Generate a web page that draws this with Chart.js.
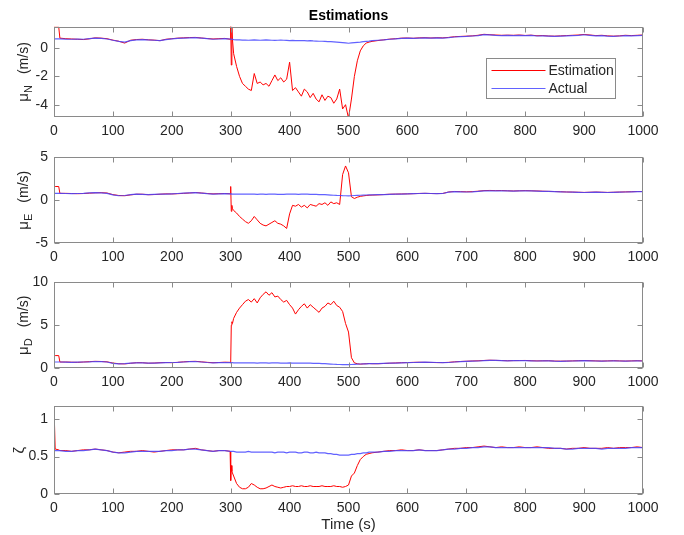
<!DOCTYPE html>
<html>
<head>
<meta charset="utf-8">
<script src="https://cdn.jsdelivr.net/npm/chart.js@4.4.1/dist/chart.umd.min.js"></script>
<style>
  html, body { margin: 0; padding: 0; background: #fff; }
  #wrap { position: relative; width: 684px; height: 535px; }
  .panel { position: absolute; left: 0; width: 684px; }
</style>
</head>
<body>
<div id="wrap">
  <div class="panel" style="top:0px;height:139px"><canvas id="cN"></canvas></div>
  <div class="panel" style="top:143px;height:122px"><canvas id="cE"></canvas></div>
  <div class="panel" style="top:268px;height:122px"><canvas id="cD"></canvas></div>
  <div class="panel" style="top:392px;height:142px"><canvas id="cZ"></canvas></div>
</div>
<script>
// time axis (s), shared by all series
const time = [0,2,8,10,
  20,30,40,50,60,70,80,90,100,110,120,130,140,150,160,170,180,190,200,210,220,230,240,250,260,270,280,290,
  299,300,301,302,303,
  305,310,315,320,325,330,335,340,345,350,355,360,365,370,375,380,385,390,395,400,
  405,410,415,420,425,430,435,440,445,450,455,460,465,470,475,480,485,490,495,500,
  505,510,515,520,525,530,535,540,
  550,560,570,580,590,600,610,620,630,640,650,660,670,680,690,700,710,720,730,740,
  750,760,770,780,790,800,810,820,830,840,850,860,870,880,890,900,910,920,930,940,
  950,960,970,980,990,1000];

const xTicks = [0,100,200,300,400,500,600,700,800,900,1000];

// mu_N
const estN = [1.5,1.5,1.5,0.7,
  0.66,0.64,0.62,0.60,0.65,0.72,0.70,0.66,0.56,0.48,0.35,0.55,0.60,0.62,0.58,0.56,0.52,0.62,0.66,0.70,0.72,0.74,0.75,0.71,0.67,0.64,0.66,0.68,
  0.62,1.8,-1.2,1.5,0.6,
  -0.4,-1.3,-2.0,-2.5,-2.7,-2.9,-3.0,-1.8,-2.5,-2.4, -2.6,-2.5,-2.7,-2.3,-1.9,-2.3,-2.1,-2.4,-2.2,-1.0,
  -3.0,-2.8,-3.1,-3.4,-2.9,-3.1,-3.5,-3.2,-3.6,-3.8, -3.3,-3.7,-3.4,-3.5,-3.9,-3.6,-2.9,-4.3,-4.0,-4.95,
  -3.6,-2.0,-0.9,-0.2,0.15,0.35,0.42,0.47,
  0.53,0.58,0.63,0.66,0.70,0.71,0.69,0.72,0.73,0.71, 0.73,0.72,0.75,0.80,0.82,0.84,0.86,0.90,0.97,0.94,
  0.92,0.90,0.91,0.90,0.92,0.89,0.91,0.87,0.88,0.85, 0.84,0.86,0.88,0.90,0.92,0.96,0.92,0.88,0.90,0.86,
  0.84,0.86,0.90,0.88,0.90,0.92];
const actN = [0.65,0.65,0.65,0.65,
  0.63,0.62,0.64,0.62,0.66,0.70,0.68,0.64,0.55,0.47,0.42,0.52,0.58,0.60,0.57,0.55,0.52,0.60,0.65,0.68,0.70,0.72,0.74,0.70,0.66,0.62,0.64,0.66,
  0.64,0.63,0.63,0.63,0.62,
  0.60,0.58,0.57,0.56,0.56,0.55,0.56,0.57,0.56,0.55, 0.56,0.57,0.56,0.55,0.54,0.55,0.56,0.55,0.54,0.53,
  0.54,0.53,0.52,0.53,0.52,0.51,0.52,0.50,0.49,0.48, 0.48,0.47,0.46,0.45,0.44,0.42,0.40,0.38,0.36,0.34,
  0.36,0.38,0.40,0.42,0.45,0.47,0.49,0.52,
  0.55,0.58,0.62,0.65,0.68,0.70,0.68,0.70,0.72,0.70, 0.72,0.70,0.73,0.78,0.80,0.82,0.85,0.88,0.95,0.93,
  0.90,0.88,0.90,0.88,0.90,0.88,0.90,0.85,0.86,0.84, 0.82,0.84,0.86,0.88,0.90,0.94,0.90,0.86,0.88,0.84,
  0.82,0.85,0.88,0.86,0.88,0.90];
const yTicksN = [-4,-2,0];

// mu_E
const estE = [1.6,1.6,1.6,0.8,
  0.80,0.78,0.76,0.78,0.82,0.86,0.88,0.84,0.65,0.55,0.52,0.62,0.70,0.70,0.64,0.66,0.70,0.74,0.73,0.76,0.80,0.84,0.90,0.84,0.78,0.74,0.76,0.78,
  0.75,1.6,-1.3,-0.6,-1.0,
  -1.2,-1.5,-1.9,-2.2,-2.5,-2.7,-2.4,-1.9,-2.3,-2.7, -2.9,-3.0,-2.8,-2.6,-2.4,-2.7,-2.8,-3.0,-3.3,-1.6,
  -0.6,-0.7,-0.5,-0.8,-0.6,-0.9,-0.5,-0.6,-0.7,-0.4, -0.5,-0.3,-0.6,-0.2,-0.4,-0.3,-0.5,3.0,4.0,3.2,
  0.4,0.2,0.35,0.45,0.5,0.55,0.58,0.60,
  0.62,0.66,0.70,0.71,0.73,0.74,0.76,0.79,0.80,0.78, 0.77,0.79,0.96,1.02,1.00,0.98,1.00,1.05,1.12,1.14,
  1.12,1.13,1.10,1.08,1.10,1.12,1.10,1.08,1.05,1.03, 1.01,0.99,0.96,0.95,0.93,0.91,0.93,0.95,0.93,0.91,
  0.93,0.95,0.97,0.99,1.01,1.02];
const actE = [0.80,0.80,0.80,0.80,
  0.78,0.76,0.78,0.80,0.85,0.88,0.86,0.80,0.62,0.52,0.55,0.65,0.70,0.68,0.66,0.68,0.70,0.72,0.75,0.78,0.82,0.85,0.88,0.82,0.76,0.72,0.74,0.76,
  0.74,0.73,0.73,0.73,0.72,
  0.72,0.71,0.70,0.70,0.71,0.72,0.71,0.70,0.69,0.70, 0.70,0.69,0.70,0.71,0.70,0.69,0.68,0.69,0.70,0.70,
  0.71,0.70,0.69,0.70,0.71,0.70,0.69,0.68,0.67,0.66, 0.65,0.64,0.62,0.60,0.58,0.56,0.55,0.53,0.52,0.50,
  0.52,0.55,0.57,0.58,0.60,0.61,0.62,0.63,
  0.64,0.66,0.68,0.70,0.72,0.75,0.77,0.78,0.80,0.78, 0.76,0.78,0.95,1.00,0.98,0.96,0.98,1.02,1.08,1.10,
  1.08,1.10,1.08,1.06,1.08,1.10,1.08,1.06,1.04,1.02, 1.00,0.98,0.96,0.94,0.92,0.90,0.92,0.94,0.92,0.90,
  0.92,0.94,0.96,0.98,1.00,1.00];
const yTicksE = [-5,0,5];

// mu_D
const estD = [1.45,1.45,1.45,0.7,
  0.70,0.68,0.66,0.70,0.74,0.78,0.76,0.72,0.58,0.50,0.48,0.55,0.62,0.62,0.56,0.58,0.62,0.64,0.62,0.66,0.72,0.76,0.78,0.72,0.66,0.62,0.64,0.68,
  0.66,0.6,5.0,5.4,5.2,
  5.8,6.5,7.0,7.4,7.8,8.0,7.7,8.1,7.6,8.2, 8.6,8.9,8.5,8.8,8.3,8.4,8.0,7.7,7.9,7.4,
  7.0,6.3,6.8,7.2,7.5,7.0,7.4,7.1,6.8,6.5, 7.0,7.2,7.6,7.4,7.8,7.3,7.1,6.6,5.2,4.2,
  1.2,0.6,0.5,0.45,0.48,0.5,0.52,0.5,
  0.50,0.53,0.56,0.59,0.62,0.63,0.66,0.67,0.66,0.65, 0.63,0.63,0.66,0.72,0.76,0.79,0.82,0.84,0.88,0.91,
  0.89,0.87,0.85,0.86,0.87,0.88,0.85,0.83,0.84,0.85, 0.81,0.80,0.81,0.83,0.85,0.87,0.85,0.83,0.81,0.83,
  0.85,0.83,0.81,0.83,0.85,0.83];
const actD = [0.70,0.70,0.70,0.70,
  0.68,0.66,0.68,0.70,0.72,0.76,0.74,0.70,0.55,0.48,0.50,0.56,0.60,0.60,0.58,0.58,0.60,0.62,0.64,0.66,0.70,0.74,0.76,0.70,0.64,0.60,0.62,0.64,
  0.63,0.62,0.62,0.62,0.62,
  0.61,0.60,0.60,0.59,0.60,0.61,0.60,0.59,0.58,0.59, 0.60,0.59,0.58,0.59,0.60,0.59,0.58,0.57,0.58,0.59,
  0.58,0.57,0.56,0.57,0.58,0.57,0.56,0.55,0.54,0.53, 0.52,0.50,0.48,0.46,0.44,0.42,0.41,0.40,0.40,0.39,
  0.41,0.43,0.45,0.47,0.48,0.49,0.50,0.51,
  0.52,0.54,0.56,0.58,0.60,0.62,0.64,0.66,0.68,0.66, 0.64,0.62,0.64,0.70,0.74,0.78,0.80,0.82,0.86,0.90,
  0.88,0.86,0.84,0.85,0.86,0.86,0.84,0.82,0.83,0.84, 0.80,0.78,0.80,0.82,0.84,0.86,0.84,0.82,0.80,0.82,
  0.84,0.82,0.80,0.82,0.84,0.82];
const yTicksD = [0,5,10];

// zeta
const estZ = [1.17,0.60,0.59,0.58,
  0.58,0.57,0.58,0.59,0.59,0.60,0.59,0.58,0.56,0.55,0.56,0.57,0.57,0.58,0.57,0.56,0.57,0.58,0.59,0.59,0.59,0.60,0.61,0.59,0.58,0.57,0.58,0.58,
  0.57,0.18,0.38,0.30,0.28,
  0.24,0.14,0.09,0.07,0.07,0.09,0.14,0.12,0.09,0.07, 0.07,0.08,0.10,0.12,0.10,0.09,0.08,0.09,0.10,0.10,
  0.11,0.10,0.10,0.11,0.10,0.10,0.11,0.10,0.10,0.10, 0.11,0.10,0.10,0.10,0.11,0.10,0.10,0.09,0.10,0.12,
  0.24,0.28,0.38,0.46,0.50,0.53,0.54,0.55,
  0.56,0.57,0.58,0.58,0.59,0.58,0.58,0.59,0.58,0.58, 0.58,0.59,0.60,0.61,0.61,0.62,0.62,0.63,0.64,0.63,
  0.62,0.63,0.62,0.62,0.63,0.62,0.62,0.63,0.62,0.61, 0.61,0.61,0.60,0.61,0.61,0.62,0.61,0.61,0.61,0.62,
  0.61,0.62,0.62,0.62,0.63,0.62];
const actZ = [0.58,0.58,0.58,0.58,
  0.57,0.57,0.58,0.58,0.59,0.60,0.59,0.58,0.56,0.55,0.55,0.56,0.57,0.57,0.57,0.57,0.57,0.58,0.58,0.59,0.59,0.60,0.60,0.59,0.58,0.57,0.58,0.58,
  0.57,0.57,0.57,0.57,0.57,
  0.57,0.56,0.56,0.56,0.56,0.57,0.56,0.56,0.56,0.56, 0.56,0.56,0.56,0.56,0.55,0.56,0.56,0.56,0.55,0.56,
  0.56,0.56,0.55,0.55,0.56,0.56,0.55,0.55,0.56,0.55, 0.55,0.55,0.54,0.54,0.53,0.53,0.52,0.52,0.52,0.52,
  0.53,0.53,0.54,0.54,0.55,0.55,0.56,0.56,
  0.56,0.57,0.57,0.58,0.58,0.58,0.58,0.59,0.58,0.58, 0.58,0.59,0.60,0.60,0.61,0.61,0.62,0.62,0.63,0.63,
  0.62,0.62,0.62,0.62,0.62,0.62,0.62,0.62,0.62,0.62, 0.61,0.61,0.60,0.60,0.61,0.61,0.61,0.61,0.60,0.61,
  0.61,0.61,0.61,0.62,0.62,0.62];
const yTicksZ = [0,0.5,1];

const FONT = "'Liberation Sans', Arial, Helvetica, sans-serif";
const axisColor = '#8a8a8a';
const textColor = '#262626';
const redColor = '#ff0000';
const blueColor = 'rgba(70,70,255,0.85)';
const seriesColors = [redColor, blueColor];

// MATLAB-like box with inward ticks, plus the rotated y label
const boxPlugin = {
  id: 'matlabBox',
  afterDatasetsDraw(chart, args, opts) {
    const { ctx, chartArea: a, scales: { x, y } } = chart;
    ctx.save();
    ctx.strokeStyle = axisColor;
    ctx.lineWidth = 1;
    const L = Math.round(a.left) + 0.5, R = Math.round(a.right) - 0.5;
    const T = Math.round(a.top) + 0.5, B = Math.round(a.bottom) - 0.5;
    ctx.strokeRect(L, T, R - L, B - T);
    ctx.beginPath();
    x.ticks.forEach(t => {
      const px = Math.round(x.getPixelForValue(t.value)) + 0.5;
      ctx.moveTo(px, B); ctx.lineTo(px, B - 5);
      ctx.moveTo(px, T); ctx.lineTo(px, T + 5);
    });
    y.ticks.forEach(t => {
      const py = Math.round(y.getPixelForValue(t.value)) + 0.5;
      ctx.moveTo(L, py); ctx.lineTo(L + 5, py);
      ctx.moveTo(R, py); ctx.lineTo(R - 5, py);
    });
    ctx.stroke();

    // y axis label: main symbol, subscript, unit
    const lab = opts.ylabel;
    if (lab) {
      const cy = (a.top + a.bottom) / 2;
      ctx.translate(lab.baseX, cy);
      ctx.rotate(-Math.PI / 2);
      ctx.fillStyle = textColor;
      ctx.textBaseline = 'alphabetic';
      ctx.font = '15px ' + FONT;
      const wMain = ctx.measureText(lab.main).width;
      ctx.font = '11px ' + FONT;
      const wSub = lab.sub ? ctx.measureText(lab.sub).width : 0;
      ctx.font = '14px ' + FONT;
      const gap = lab.unit ? 11 : 0;
      const wUnit = lab.unit ? ctx.measureText(lab.unit).width : 0;
      let x0 = -(wMain + wSub + gap + wUnit) / 2;
      ctx.font = '15px ' + FONT;
      ctx.fillText(lab.main, x0, 0);
      x0 += wMain;
      if (lab.sub) {
        ctx.font = '11px ' + FONT;
        ctx.fillText(lab.sub, x0, 4);
        x0 += wSub;
      }
      if (lab.unit) {
        ctx.font = '14px ' + FONT;
        ctx.fillText(lab.unit, x0 + gap, 0);
      }
    }
    ctx.restore();
  }
};

// legend box drawn inside the first panel
const boxLegend = {
  id: 'boxLegend',
  afterDraw(chart, args, opts) {
    if (!opts.show) return;
    const { ctx, chartArea: a } = chart;
    const right = Math.round(a.right) - 27.5, top = Math.round(a.top) + 31.5;
    const w = 129, h = 40;
    const left = right - w;
    ctx.save();
    ctx.fillStyle = '#fff';
    ctx.fillRect(left, top, w, h);
    ctx.strokeStyle = axisColor;
    ctx.lineWidth = 1;
    ctx.strokeRect(left, top, w, h);
    ctx.font = '14px ' + FONT;
    ctx.textBaseline = 'middle';
    ctx.textAlign = 'left';
    chart.data.datasets.forEach((ds, i) => {
      const yy = Math.round(top + 11 + i * 18) + 0.5;
      ctx.beginPath();
      ctx.strokeStyle = seriesColors[i];
      ctx.lineWidth = 1;
      ctx.moveTo(left + 5, yy);
      ctx.lineTo(left + 59, yy);
      ctx.stroke();
      ctx.fillStyle = textColor;
      ctx.fillText(ds.label, left + 62, yy + 1);
    });
    ctx.restore();
  }
};

function pairs(arr) {
  return time.map((t, i) => ({ x: t, y: arr[i] }));
}

function makePanel(id, est, act, yMin, yMax, yTicks, ylabel, extra) {
  extra = extra || {};
  const config = {
    type: 'line',
    data: {
      datasets: [
        { label: 'Estimation', data: pairs(est), borderColor: redColor, borderWidth: 1, pointRadius: 0, order: 1 },
        { label: 'Actual', data: pairs(act), borderColor: blueColor, borderWidth: 1.2, pointRadius: 0, order: 0 }
      ]
    },
    options: {
      responsive: true,
      maintainAspectRatio: false,
      animation: false,
      layout: { padding: { left: 0, right: 41, top: extra.title ? 1 : 10, bottom: 0 } },
      plugins: {
        legend: { display: false },
        tooltip: { enabled: false },
        title: {
          display: !!extra.title,
          text: extra.title || '',
          fullSize: false,
          color: '#000',
          font: { family: FONT, size: 14, weight: 'bold' },
          padding: { top: 7, bottom: 2 }
        },
        matlabBox: { ylabel: ylabel },
        boxLegend: { show: !!extra.legend }
      },
      scales: {
        x: {
          type: 'linear',
          min: 0,
          max: 1000,
          grid: { display: false, drawTicks: false },
          border: { display: false },
          ticks: { color: textColor, font: { family: FONT, size: 14 }, padding: 6, maxRotation: 0, autoSkip: false, callback: v => String(v) },
          afterBuildTicks: s => { s.ticks = xTicks.map(v => ({ value: v })); },
          title: {
            display: !!extra.xTitle,
            text: extra.xTitle || '',
            color: textColor,
            font: { family: FONT, size: 15 },
            padding: { top: 0, bottom: 0 }
          },
          afterFit: s => { s.height = extra.xTitle ? 40 : 22; }
        },
        y: {
          min: yMin,
          max: yMax,
          grid: { display: false, drawTicks: false },
          border: { display: false },
          ticks: { color: textColor, font: { family: FONT, size: 14 }, padding: 6, callback: v => String(v) },
          afterBuildTicks: s => { s.ticks = yTicks.map(v => ({ value: v })); },
          afterFit: s => { s.width = 54; }
        }
      }
    },
    plugins: [boxPlugin, boxLegend]
  };
  return new Chart(document.getElementById(id).getContext('2d'), config);
}

makePanel('cN', estN, actN, -4.87, 1.5, yTicksN, { main: 'μ', sub: 'N', unit: '(m/s)', baseX: 28 }, { title: 'Estimations', legend: true });
makePanel('cE', estE, actE, -5, 5, yTicksE, { main: 'μ', sub: 'E', unit: '(m/s)', baseX: 28 });
makePanel('cD', estD, actD, 0, 10, yTicksD, { main: 'μ', sub: 'D', unit: '(m/s)', baseX: 28 });
makePanel('cZ', estZ, actZ, 0, 1.17, yTicksZ, { main: 'ζ', baseX: 24 }, { xTitle: 'Time (s)' });
</script>
</body>
</html>
